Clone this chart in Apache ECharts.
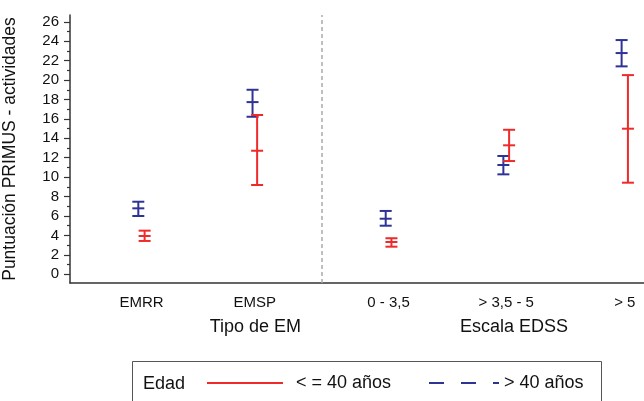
<!DOCTYPE html>
<html>
<head>
<meta charset="utf-8">
<script src="https://cdn.jsdelivr.net/npm/echarts@6/dist/echarts.min.js"></script>
<style>
html,body{margin:0;padding:0;background:#fff;}
#chart{width:644px;height:401px;}
</style>
</head>
<body>
<div id="chart"></div>
<script>
// ---- data ----
const categories = ['EMRR', 'EMSP', '0 - 3,5', '> 3,5 - 5', '> 5'];
const categoryX = [1.245, 3.22, 5.55, 7.60, 9.665];
const groupTitles = ['Tipo de EM', 'Escala EDSS'];
const groupX = [3.23, 7.735];
const dividerX = 4.39;

const seriesNames = ['< = 40 años', '> 40 años'];
// <= 40 years (red)
const youngX = [1.30, 3.26, 5.60, 7.65, 9.72];
const youngLow = [3.43, 9.19, 2.84, 11.66, 9.43];
const youngMean = [3.94, 12.72, 3.32, 13.28, 14.99];
const youngHigh = [4.49, 16.40, 3.71, 14.88, 20.51];
// > 40 years (blue)
const olderX = [1.19, 3.18, 5.50, 7.55, 9.61];
const olderLow = [6.00, 16.22, 5.00, 10.29, 21.41];
const olderMean = [6.79, 17.73, 5.72, 11.25, 22.78];
const olderHigh = [7.47, 19.00, 6.52, 12.18, 24.12];

const yTickLabels = [0, 2, 4, 6, 8, 10, 12, 14, 16, 18, 20, 22, 24, 26];
const yMinorTicks = [1, 3, 5, 7, 9, 11, 13, 15, 17, 19, 21, 23, 25];

// ---- chart ----
const RED = '#ef2a2a';
const BLUE = '#2f3396';
const FONT = "'Liberation Sans', Arial, Helvetica, sans-serif";

function rows(xs, lo, mid, hi) {
  return xs.map((x, i) => [x, lo[i], mid[i], hi[i]]);
}
function lookup(positions, names) {
  return function (v) {
    let best = 0;
    positions.forEach((p, i) => { if (Math.abs(p - v) < Math.abs(positions[best] - v)) best = i; });
    return names[best];
  };
}
function errorBar(color) {
  return function (params, api) {
    const x = api.value(0);
    const lo = api.coord([x, api.value(1)]);
    const mid = api.coord([x, api.value(2)]);
    const hi = api.coord([x, api.value(3)]);
    const hw = 6;
    const style = { stroke: color, lineWidth: 2, fill: null };
    return {
      type: 'group',
      children: [
        { type: 'line', shape: { x1: lo[0], y1: lo[1], x2: hi[0], y2: hi[1] }, style },
        { type: 'line', shape: { x1: lo[0] - hw, y1: lo[1], x2: lo[0] + hw, y2: lo[1] }, style },
        { type: 'line', shape: { x1: hi[0] - hw, y1: hi[1], x2: hi[0] + hw, y2: hi[1] }, style },
        { type: 'line', shape: { x1: mid[0] - hw, y1: mid[1], x2: mid[0] + hw, y2: mid[1] }, style }
      ]
    };
  };
}

const chart = echarts.init(document.getElementById('chart'), null, { renderer: 'canvas' });
const axisColor = '#333';
chart.setOption({
  backgroundColor: '#fff',
  animation: false,
  textStyle: { fontFamily: FONT },
  grid: { left: 70, right: 0, top: 15, bottom: 118, containLabel: false, outerBoundsMode: 'none' },
  xAxis: [
    {
      type: 'value', min: 0, max: 10, position: 'bottom',
      axisLine: { show: true, onZero: false, lineStyle: { color: axisColor, width: 1.5 } },
      axisTick: { show: false },
      splitLine: { show: false },
      axisLabel: {
        customValues: categoryX, formatter: lookup(categoryX, categories),
        fontSize: 15, color: '#111', margin: 12, fontFamily: FONT
      }
    },
    {
      type: 'value', min: 0, max: 10, position: 'bottom',
      axisLine: { show: false }, axisTick: { show: false }, splitLine: { show: false },
      axisLabel: {
        customValues: groupX, formatter: lookup(groupX, groupTitles),
        fontSize: 18, color: '#111', margin: 35, fontFamily: FONT
      }
    }
  ],
  yAxis: [
    {
      type: 'value', min: -0.9, max: 26.7, position: 'left',
      name: 'Puntuación PRIMUS - actividades', nameLocation: 'middle', nameGap: 51,
      nameTextStyle: { fontSize: 17.5, color: '#111', fontFamily: FONT },
      axisLine: { show: true, onZero: false, lineStyle: { color: axisColor, width: 1.5 } },
      axisTick: { show: true, customValues: yTickLabels, length: 6, lineStyle: { color: axisColor, width: 1.2 } },
      splitLine: { show: false },
      axisLabel: { customValues: yTickLabels, fontSize: 15, color: '#111', margin: 11, fontFamily: FONT }
    },
    {
      type: 'value', min: -0.9, max: 26.7, position: 'left', offset: 0,
      axisLine: { show: false },
      axisTick: { show: true, customValues: yMinorTicks, length: 3, lineStyle: { color: axisColor, width: 1.2 } },
      axisLabel: { show: false },
      splitLine: { show: false }
    }
  ],
  legend: [
    {
      data: [seriesNames[0]], left: 206, top: 374, padding: 0,
      itemWidth: 76, itemHeight: 14, selectedMode: false,
      itemStyle: { opacity: 0 },
      textStyle: { fontSize: 18, color: '#111', padding: [0, 0, 0, 8], fontFamily: FONT }
    },
    {
      data: [seriesNames[1]], left: 428, top: 374, padding: 0,
      itemWidth: 70, itemHeight: 14, selectedMode: false,
      itemStyle: { opacity: 0 },
      textStyle: { fontSize: 18, color: '#111', fontFamily: FONT }
    }
  ],
  graphic: [
    { type: 'rect', left: 130, top: 359, shape: { width: 469, height: 60 }, style: { fill: 'none', stroke: '#555', lineWidth: 1 }, silent: true },
    { type: 'text', left: 143, top: 375, style: { text: 'Edad', fontSize: 18, fill: '#111', font: '18px ' + FONT } }
  ],
  series: [
    {
      name: seriesNames[0], type: 'line', data: [], symbol: 'none',
      lineStyle: { color: RED, width: 2 }, itemStyle: { color: RED }
    },
    {
      name: seriesNames[1], type: 'line', data: [], symbol: 'none',
      lineStyle: { color: BLUE, width: 2, type: [15, 17] }, itemStyle: { color: BLUE }
    },
    {
      name: 'olderBars', type: 'custom', xAxisIndex: 0, yAxisIndex: 0,
      renderItem: errorBar(BLUE),
      encode: { x: 0, y: [1, 2, 3] },
      data: rows(olderX, olderLow, olderMean, olderHigh),
      markLine: {
        silent: true, symbol: 'none', label: { show: false },
        lineStyle: { color: '#aaa', type: [4, 3], width: 1.5 },
        data: [{ xAxis: dividerX }]
      }
    },
    {
      name: 'youngBars', type: 'custom', xAxisIndex: 0, yAxisIndex: 0,
      renderItem: errorBar(RED),
      encode: { x: 0, y: [1, 2, 3] },
      data: rows(youngX, youngLow, youngMean, youngHigh)
    }
  ]
});
</script>
</body>
</html>
